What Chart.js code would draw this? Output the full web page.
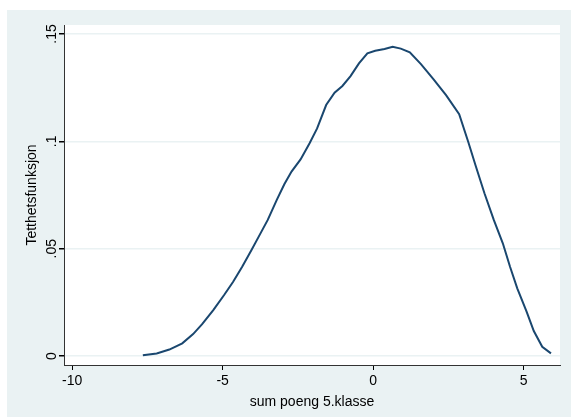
<!DOCTYPE html>
<html>
<head>
<meta charset="utf-8">
<script src="https://cdn.jsdelivr.net/npm/chart.js@4"></script>
<style>
  html, body { margin: 0; padding: 0; background: #ffffff; }
  #wrap { position: absolute; left: 7px; top: 10px; width: 564px; height: 407px; background: #eaf2f3; }
</style>
</head>
<body>
<div id="wrap"><canvas id="chart" width="564" height="407"></canvas></div>
<script>
// kernel density estimate
var xValues = [-7.65, -7.19, -6.77, -6.34, -5.98, -5.68, -5.31, -4.95, -4.65, -4.35, -4.04, -3.80, -3.50, -3.20, -2.95, -2.71, -2.41, -2.11, -1.86, -1.56, -1.28, -1.02, -0.75, -0.47, -0.19, 0.07, 0.38, 0.65, 0.92, 1.22, 1.59, 2.01, 2.43, 2.86, 3.16, 3.40, 3.70, 4.01, 4.31, 4.55, 4.79, 5.10, 5.34, 5.62, 5.91];
var densityValues = [0.0003, 0.0012, 0.0030, 0.0059, 0.0102, 0.0148, 0.0214, 0.0284, 0.0346, 0.0416, 0.0494, 0.0556, 0.0634, 0.0727, 0.0800, 0.0859, 0.0916, 0.0991, 0.1060, 0.1169, 0.1227, 0.1258, 0.1304, 0.1363, 0.1410, 0.1422, 0.1430, 0.1441, 0.1432, 0.1415, 0.1360, 0.1289, 0.1214, 0.1126, 0.0998, 0.0890, 0.0758, 0.0634, 0.0525, 0.0416, 0.0315, 0.0207, 0.0116, 0.0043, 0.0012];
var xTicks = [-10, -5, 0, 5];
var yTicks = [0, 0.05, 0.1, 0.15];
var yTickLabels = ['0', '.05', '.1', '.15'];

var points = [];
for (var i = 0; i < xValues.length; i++) {
    points.push({x: xValues[i], y: densityValues[i]});
}

var whiteArea = {
    id: 'whiteArea',
    beforeDraw: function(chart) {
        var a = chart.chartArea;
        var ctx = chart.ctx;
        ctx.save();
        ctx.fillStyle = '#ffffff';
        ctx.fillRect(a.left, a.top, a.right - a.left, a.bottom - a.top);
        ctx.restore();
    }
};

var font = { family: 'Liberation Sans, Arial, sans-serif', size: 14 };

var ctx = document.getElementById('chart').getContext('2d');
var mychart = new Chart(ctx, {
    type: 'line',
    data: {
        datasets: [{
            data: points,
            borderColor: '#1a476f',
            borderWidth: 2,
            pointRadius: 0,
            tension: 0,
            fill: false
        }]
    },
    options: {
        responsive: false,
        animation: false,
        layout: { padding: { left: 0, top: 15, right: 11, bottom: 0 } },
        plugins: {
            legend: { display: false },
            tooltip: { enabled: false }
        },
        scales: {
            x: {
                type: 'linear',
                min: -10.27,
                max: 6.21,
                afterBuildTicks: function(scale) {
                    scale.ticks = xTicks.map(function(v) { return {value: v}; });
                },
                afterFit: function(scale) { scale.height = 52; },
                ticks: { color: '#000000', font: font, padding: 3, maxRotation: 0 },
                grid: { drawOnChartArea: false, drawTicks: true, tickLength: 5, tickColor: '#000000' },
                border: { color: '#333333', width: 1 },
                title: { display: true, text: 'sum poeng 5.klasse', color: '#000000', font: font, padding: { top: 0, bottom: 6 } }
            },
            y: {
                min: -0.0042,
                max: 0.1542,
                afterBuildTicks: function(scale) {
                    scale.ticks = yTicks.map(function(v) { return {value: v}; });
                },
                afterFit: function(scale) { scale.width = 57; },
                ticks: {
                    color: '#000000',
                    font: font,
                    padding: -3,
                    minRotation: 90,
                    maxRotation: 90,
                    crossAlign: 'center',
                    callback: function(value) {
                        return yTickLabels[yTicks.indexOf(value)];
                    }
                },
                grid: { color: '#eaf2f3', lineWidth: 1.5, tickLength: 5, tickColor: '#000000' },
                border: { color: '#333333', width: 1 },
                title: { display: true, text: 'Tetthetsfunksjon', color: '#000000', font: font, padding: { top: 17, bottom: 0 } }
            }
        }
    },
    plugins: [whiteArea]
});
</script>
</body>
</html>
